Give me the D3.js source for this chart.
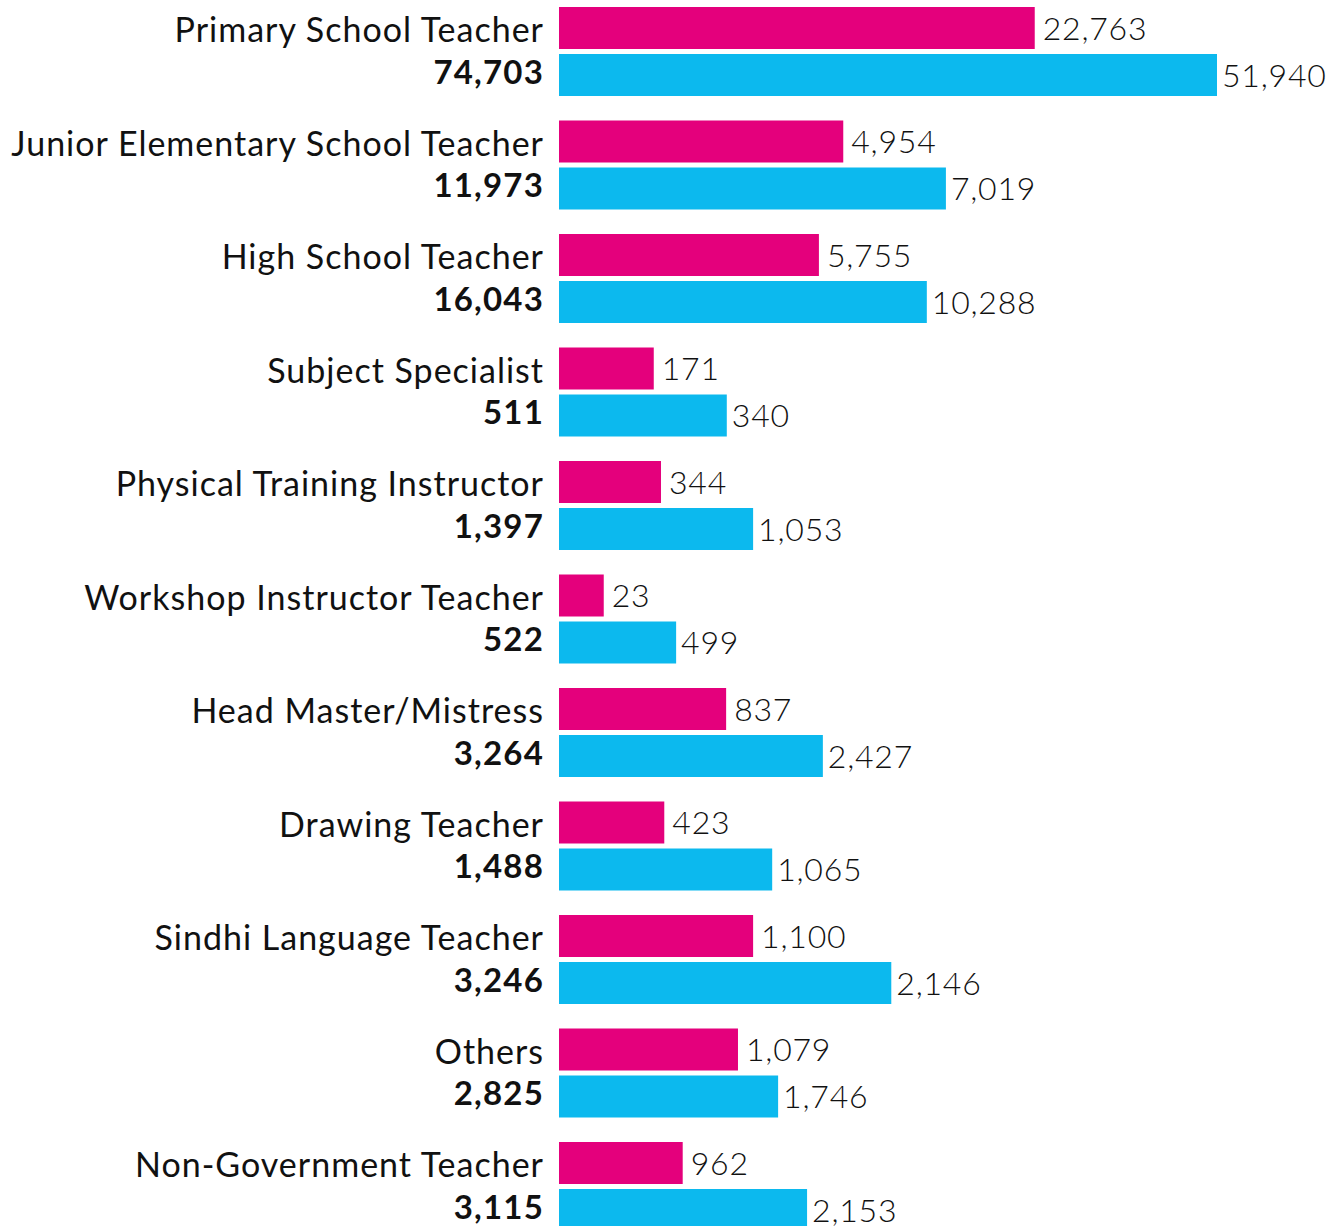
<!DOCTYPE html>
<html>
<head>
<meta charset="utf-8">
<script src="https://cdn.jsdelivr.net/npm/d3@7"></script>
<style>
  body { margin: 0; background: #fff; }
  svg text { font-family: Lato, "Open Sans", sans-serif; fill: #111; }
</style>
</head>
<body>
<div id="chart"></div>
<script>
var categories = ["Primary School Teacher", "Junior Elementary School Teacher", "High School Teacher",
  "Subject Specialist", "Physical Training Instructor", "Workshop Instructor Teacher",
  "Head Master/Mistress", "Drawing Teacher", "Sindhi Language Teacher", "Others", "Non-Government Teacher"]
var totals = [74703, 11973, 16043, 511, 1397, 522, 3264, 1488, 3246, 2825, 3115]
var femaleValues = [22763, 4954, 5755, 171, 344, 23, 837, 423, 1100, 1079, 962]
var maleValues = [51940, 7019, 10288, 340, 1053, 499, 2427, 1065, 2146, 1746, 2153]
// bar lengths as drawn in the source, relative to the longest bar (= 100)
var femaleBar = [72.3, 43.2, 39.5, 14.4, 15.5, 6.8, 25.4, 16.0, 29.5, 27.2, 18.8]
var maleBar = [100, 58.8, 55.9, 25.5, 29.5, 17.8, 40.1, 32.4, 50.5, 33.3, 37.7]

var data = categories.map(function (c, i) {
  return { cat: c, total: totals[i], f: femaleValues[i], m: maleValues[i], fb: femaleBar[i], mb: maleBar[i] }
})

var width = 1337, height = 1226
var svg = d3.select("#chart").append("svg")
  .attr("width", width).attr("height", height)

var x0 = 559
var x = d3.scaleLinear().domain([0, 100]).range([0, 658])
var y = d3.scaleBand().domain(categories).range([7, 7 + categories.length * 113.5])
var barH = 42, blueOff = 47
var fmt = d3.format(",")

var g = svg.selectAll("g.row").data(data).enter().append("g")
  .attr("class", "row")
  .attr("transform", function (d) { return "translate(0," + y(d.cat) + ")" })

g.append("rect")
  .attr("x", x0).attr("y", 0)
  .attr("width", function (d) { return x(d.fb) })
  .attr("height", barH)
  .style("fill", "#e4007c")

g.append("rect")
  .attr("x", x0).attr("y", blueOff)
  .attr("width", function (d) { return x(d.mb) })
  .attr("height", barH)
  .style("fill", "#0cb9ee")

// category name
g.append("text")
  .attr("x", 544).attr("y", 35)
  .attr("text-anchor", "end")
  .style("font-size", "34px")
  .style("letter-spacing", "1px")
  .text(function (d) { return d.cat })

// total
g.append("text")
  .attr("x", 544).attr("y", blueOff + 29.5)
  .attr("text-anchor", "end")
  .style("font-size", "33px")
  .style("font-weight", "bold")
  .style("letter-spacing", "1.2px")
  .text(function (d) { return fmt(d.total) })

g.append("text")
  .attr("x", function (d) { return x0 + x(d.fb) + 8 })
  .attr("y", 32.5)
  .style("font-size", "32px")
  .style("font-weight", 300)
  .style("letter-spacing", "0.8px")
  .text(function (d) { return fmt(d.f) })

g.append("text")
  .attr("x", function (d) { return x0 + x(d.mb) + 5 })
  .attr("y", blueOff + 32.5)
  .style("font-size", "32px")
  .style("font-weight", 300)
  .style("letter-spacing", "0.8px")
  .text(function (d) { return fmt(d.m) })
</script>
</body>
</html>
